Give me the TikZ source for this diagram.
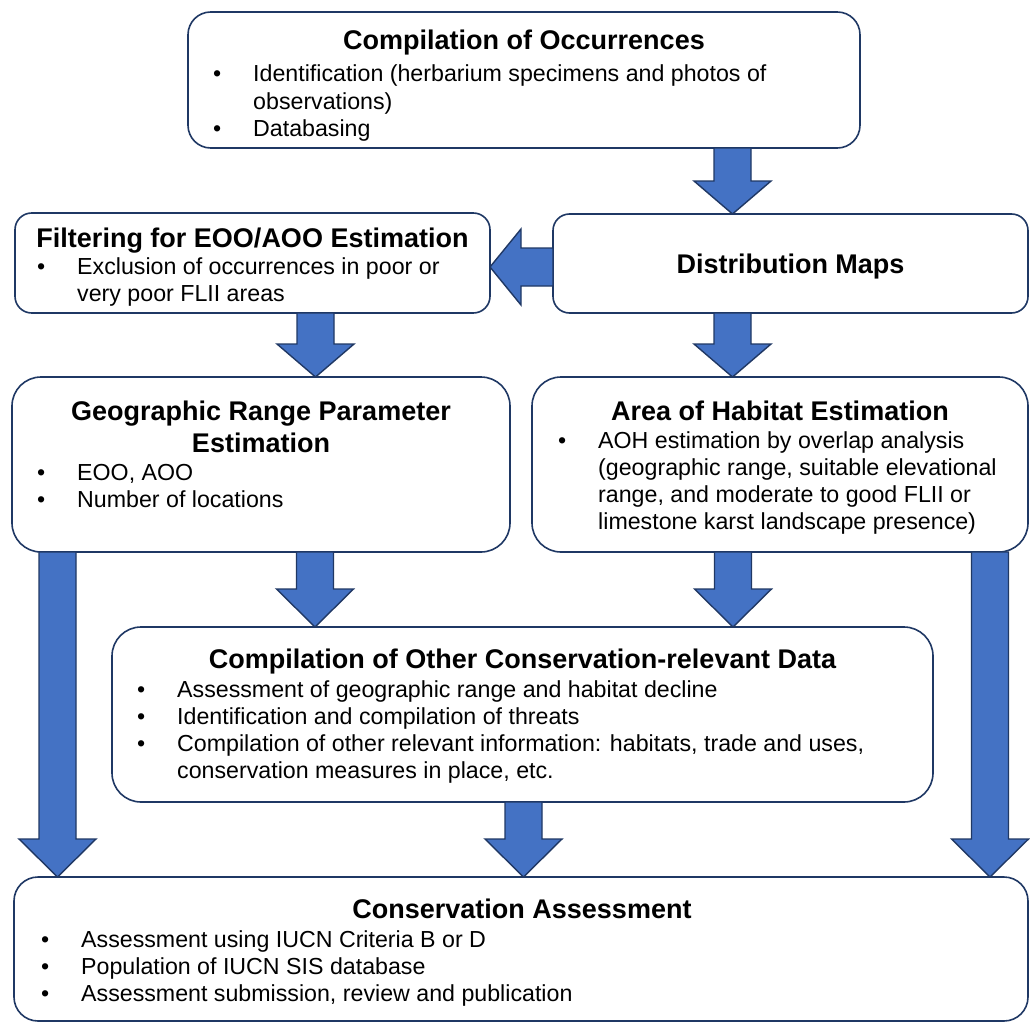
\documentclass[tikz,border=0pt]{standalone}
\usepackage{fontspec}
\setmainfont{Liberation Sans}
\usetikzlibrary{calc}
\definecolor{boxline}{HTML}{1F3864}
\definecolor{arrfill}{HTML}{4472C4}
\definecolor{arrline}{HTML}{203864}
\newcommand\bul[1]{\par\hangindent=40pt\hangafter=1\noindent\hbox to 40pt{\textbullet\hfil}#1\par}
\newcommand\bodytext[2]{\parbox[t]{#1pt}{\rightskip=0pt plus 1fil\relax #2}}
\newcommand\varrow[4]{%
  \draw[blockarrow] let \p1=(#1.south), \p2=(#2.north) in
  (#3pt-18.5pt,\y1) -- (#3pt+18.5pt,\y1) -- (#3pt+18.5pt,\y2+#4pt) --
  (#3pt+38.5pt,\y2+#4pt) -- (#3pt,\y2) -- (#3pt-38.5pt,\y2+#4pt) --
  (#3pt-18.5pt,\y2+#4pt) -- cycle;}
\newcommand\harrowleft[4]{%
  \draw[blockarrow] let \p1=(#1.west), \p2=(#2.east) in
  (\x1,-#3pt+19pt) -- (\x2+#4pt,-#3pt+19pt) -- (\x2+#4pt,-#3pt+38pt) --
  (\x2,-#3pt) -- (\x2+#4pt,-#3pt-38pt) -- (\x2+#4pt,-#3pt-19pt) --
  (\x1,-#3pt-19pt) -- cycle;}
\tikzset{
  box/.style={draw=boxline, line width=1.6pt, fill=white, rounded corners=#1,
    inner sep=0pt, outer sep=0pt, anchor=north west},
  blockarrow/.style={draw=arrline, fill=arrfill, line width=1.4pt, line join=miter},
  titletext/.style={font=\bfseries\fontsize{27}{32}\selectfont, anchor=base,
    inner sep=0pt},
  bodynode/.style={font=\fontsize{23.2}{27.2}\selectfont, anchor=base west, inner sep=0pt}
}
\begin{document}
\begin{tikzpicture}[x=1pt,y=-1pt]
\useasboundingbox (0,0) rectangle (1030,1022);
\fill[white] (0,0) rectangle (1030,1022);

% boxes
\node[box=22.7pt, minimum width=672pt, minimum height=136pt] (occ) at (188,12) {};
\node[box=16.7pt, minimum width=475pt, minimum height=100pt] (filt) at (15,213) {};
\node[box=16.5pt, minimum width=475pt, minimum height=99pt] (dist) at (553,214) {};
\node[box=29pt, minimum width=498pt, minimum height=175pt] (geo) at (12,377) {};
\node[box=29pt, minimum width=496pt, minimum height=175pt] (aoh) at (532,377) {};
\node[box=29pt, minimum width=821pt, minimum height=175pt] (other) at (112,627) {};
\node[box=24pt, minimum width=1014pt, minimum height=144pt] (cons) at (14,877) {};

% arrows
\varrow{occ}{dist}{732.5}{33}
\harrowleft{dist}{filt}{267}{31}
\varrow{filt}{geo}{315.5}{33}
\varrow{dist}{aoh}{732.5}{33}
\varrow{geo}{other}{315}{38}
\varrow{aoh}{other}{733}{38}
\varrow{geo}{cons}{57.5}{38}
\varrow{aoh}{cons}{990}{38}
\varrow{other}{cons}{523.5}{38}

% texts
\node[titletext] (occT) at (524,50) {Compilation of Occurrences};
\node[bodynode] (occB) at (213,82) {\bodytext{640}{%
  \bul{Identification (herbarium specimens and photos of\newline observations)}%
  \bul{Databasing}}};

\node[titletext] (filtT) at (252.5,247) {Filtering for EOO/AOO Estimation};
\node[bodynode] (filtB) at (37,274) {\bodytext{450}{%
  \bul{Exclusion of occurrences in poor or\newline very poor FLII areas}}};

\node[titletext] (distT) at (790.5,273) {Distribution Maps};

\node[titletext] (geoT1) at (261,420) {Geographic Range Parameter};
\node[titletext] (geoT2) at (261,452) {Estimation};
\node[bodynode] (geoB) at (37,480) {\bodytext{450}{%
  \bul{EOO, AOO}%
  \bul{Number of locations}}};

\node[titletext] (aohT) at (780,420) {Area of Habitat Estimation};
\node[bodynode] (aohB) at (558,448) {\bodytext{470}{%
  \bul{AOH estimation by overlap analysis\newline (geographic range, suitable elevational\newline range, and moderate to good FLII or\newline limestone karst landscape presence)}}};

\node[titletext] (otherT) at (522.5,668) {Compilation of Other Conservation-relevant Data};
\node[bodynode] (otherB) at (137,697) {\bodytext{790}{%
  \bul{Assessment of geographic range and habitat decline}%
  \bul{Identification and compilation of threats}%
  \bul{Compilation of other relevant information: habitats, trade and uses,\newline conservation measures in place, etc.}}};

\node[titletext] (consT) at (522,918) {Conservation Assessment};
\node[bodynode] (consB) at (41,947) {\bodytext{900}{%
  \bul{Assessment using IUCN Criteria B or D}%
  \bul{Population of IUCN SIS database}%
  \bul{Assessment submission, review and publication}}};
\end{tikzpicture}
\end{document}
